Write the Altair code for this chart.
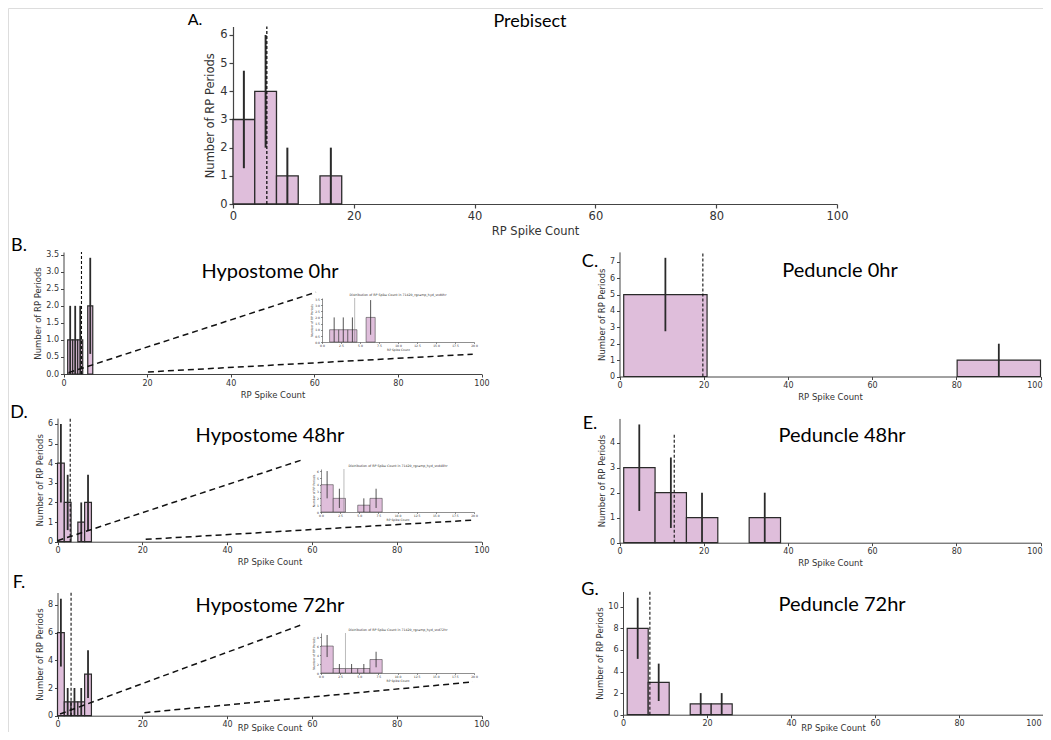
import altair as alt
import pandas as pd

W, H = 1035, 724
OFF = 8

# ---------------- data ----------------
# A. Prebisect
A_edges = [0, 3.6, 7.2, 10.8, 14.4, 18.0]
A_counts = [3, 4, 1, 0, 1]
A_err_x = [1.8, 5.4, 9.0, 16.2]
A_err_lo = [1.27, 2.0, 0.0, 0.0]
A_err_hi = [4.73, 6.0, 2.0, 2.0]
A_median = 5.6

# B. Hypostome 0hr
B_edges = [1.0, 2.2, 3.4, 4.6, 5.8, 7.0]
B_counts = [1, 1, 1, 0, 2]
B_err_x = [1.6, 2.8, 4.0, 6.4]
B_err_lo = [0.0, 0.0, 0.0, 0.59]
B_err_hi = [2.0, 2.0, 2.0, 3.41]
B_median = 4.3

# C. Peduncle 0hr
C_edges = [1.0, 20.8, 40.6, 60.4, 80.2, 100.0]
C_counts = [5, 0, 0, 0, 1]
C_err_x = [10.9, 90.1]
C_err_lo = [2.76, 0.0]
C_err_hi = [7.24, 2.0]
C_median = 19.8

# D. Hypostome 48hr
D_edges = [0.0, 1.6, 3.2, 4.8, 6.4, 8.0]
D_counts = [4, 2, 0, 1, 2]
D_err_x = [0.8, 2.4, 5.6, 7.2]
D_err_lo = [2.0, 0.59, 0.0, 0.59]
D_err_hi = [6.0, 3.41, 2.0, 3.41]
D_median = 3.0

# E. Peduncle 48hr
E_edges = [1.0, 8.45, 15.9, 23.35, 30.8, 38.25]
E_counts = [3, 2, 1, 0, 1]
E_err_x = [4.7, 12.2, 19.6, 34.5]
E_err_lo = [1.27, 0.59, 0.0, 0.0]
E_err_hi = [4.73, 3.41, 2.0, 2.0]
E_median = 13.0

# F. Hypostome 72hr
F_edges = [0.0, 1.6, 3.2, 4.8, 6.4, 8.0]
F_counts = [6, 1, 1, 1, 3]
F_err_x = [0.8, 2.4, 4.0, 5.6, 7.2]
F_err_lo = [3.55, 0.0, 0.0, 0.0, 1.27]
F_err_hi = [8.45, 2.0, 2.0, 2.0, 4.73]
F_median = 3.2

# G. Peduncle 72hr
G_edges = [1.0, 6.0, 11.0, 16.0, 21.0, 26.0]
G_counts = [8, 3, 0, 1, 1]
G_err_x = [3.5, 8.5, 18.5, 23.5]
G_err_lo = [5.17, 1.27, 0.0, 0.0]
G_err_hi = [10.83, 4.73, 2.0, 2.0]
G_median = 6.4

# zoom-guide dashed lines (main-panel data coordinates)
B_zoom_x1 = [1.2, 20.2]
B_zoom_y1 = [0.04, 0.06]
B_zoom_x2 = [60.4, 97.9]
B_zoom_y2 = [2.40, 0.58]
D_zoom_x1 = [0.0, 20.8]
D_zoom_y1 = [0.05, 0.12]
D_zoom_x2 = [58.1, 98.0]
D_zoom_y2 = [4.2, 1.1]
F_zoom_x1 = [0.6, 20.5]
F_zoom_y1 = [0.12, 0.22]
F_zoom_x2 = [57.6, 98.0]
F_zoom_y2 = [6.57, 2.44]

main_xticks = [0, 20, 40, 60, 80, 100]
inset_xticks = [0, 2.5, 5, 7.5, 10, 12.5, 15, 17.5, 20]

FILL = "#dfbedb"
EDGE = "#2a2a2a"
AXC = "#444444"
TXT = "#333333"

STYLES = {
    "big": dict(lab=11.5, tit=11.5, tick=4, dom=1.2, edge=1.3, err=2.0, med=1.3, dash=[3, 2], tpad=4, lpad=2),
    "main": dict(lab=8, tit=8.5, tick=3, dom=1.0, edge=1.2, err=1.8, med=1.1, dash=[3, 2], tpad=3, lpad=2),
    "inset": dict(lab=3, tit=3, tick=1.5, dom=0.6, edge=0.5, err=0.8, med=0.5, dash=[1, 0], tpad=1, lpad=1),
}


def panel(edges, counts, ex, elo, ehi, median, med_top, xdom, xpx, ydom, ypx,
          xticks, yticks, xfmt, yfmt, style, zoom=None, xtitle_y=None, right_shift=None):
    s = STYLES[style]
    xs = alt.Scale(domain=xdom, range=[xpx[0] - OFF, xpx[1] - OFF], nice=False, zero=False)
    ys = alt.Scale(domain=ydom, range=[ypx[0] - OFF, ypx[1] - OFF], nice=False, zero=False)
    common = dict(grid=False, labelFlush=False, labelOverlap=False,
                  labelFontSize=s["lab"], titleFontSize=s["tit"], tickSize=s["tick"],
                  domainWidth=s["dom"], tickWidth=s["dom"], domainColor=AXC, tickColor=AXC,
                  labelColor=TXT, titleColor=TXT, titleFontWeight="normal",
                  labelPadding=s["lpad"], labelFont="DejaVu Sans",
                  titleFont="DejaVu Sans")
    xextra = dict(titlePadding=s["tpad"])
    if xtitle_y is not None:
        xextra = dict(titleY=xtitle_y, titleBaseline="middle")
    if right_shift is not None:
        xextra["labelAlign"] = {"condition": {"test": "datum.value == 100", "value": "right"},
                                "value": "center"}
        xextra["labelOffset"] = {"condition": {"test": "datum.value == 100", "value": right_shift},
                                 "value": 0}
    xax = alt.Axis(orient="bottom", offset=(ypx[0] - OFF) - H, values=xticks, format=xfmt,
                   title="RP Spike Count", **common, **xextra)
    yax = alt.Axis(orient="left", offset=-(xpx[0] - OFF), values=yticks, format=yfmt,
                   title="Number of RP Periods", titlePadding=s["tpad"], **common)

    bars = pd.DataFrame({"a": edges[:-1], "b": edges[1:], "n": counts, "z": [0] * len(counts)})
    bars = bars[bars["n"] > 0]
    errs = pd.DataFrame({"a": ex, "lo": elo, "hi": ehi})
    med = pd.DataFrame({"a": [median], "lo": [0], "hi": [med_top]})

    layers = [
        alt.Chart(bars).mark_rect(fill=FILL, stroke=EDGE, strokeWidth=s["edge"]).encode(
            x=alt.X("a:Q", scale=xs, axis=xax), x2="b:Q",
            y=alt.Y("n:Q", scale=ys, axis=yax), y2="z:Q"),
        alt.Chart(errs).mark_rule(color=EDGE, strokeWidth=s["err"]).encode(
            x=alt.X("a:Q", scale=xs, axis=xax),
            y=alt.Y("lo:Q", scale=ys, axis=yax), y2="hi:Q"),
        alt.Chart(med).mark_rule(color="#111111" if style != "inset" else "#777777",
                                 strokeWidth=s["med"], strokeDash=s["dash"]).encode(
            x=alt.X("a:Q", scale=xs, axis=xax),
            y=alt.Y("lo:Q", scale=ys, axis=yax), y2="hi:Q"),
    ]
    if zoom is not None:
        zx1, zy1, zx2, zy2 = zoom
        zd = pd.DataFrame({"a": zx1, "lo": zy1, "b": zx2, "hi": zy2})
        layers.append(
            alt.Chart(zd).mark_rule(color="#111111", strokeWidth=1.5, strokeDash=[6, 4]).encode(
                x=alt.X("a:Q", scale=xs, axis=xax), x2="b:Q",
                y=alt.Y("lo:Q", scale=ys, axis=yax), y2="hi:Q"))
    return alt.layer(*layers)


def label(txt, px, py, size, font="Lato", align="center", color="black"):
    return alt.Chart(pd.DataFrame({"t": [txt]})).mark_text(
        font=font, fontSize=size, align=align, baseline="middle", color=color
    ).encode(text="t:N", x=alt.value(px - OFF), y=alt.value(py - OFF))


panels = [
    panel(A_edges, A_counts, A_err_x, A_err_lo, A_err_hi, A_median, 6.3, [0, 100], [233, 837],
          [0, 6.3], [204, 26.5], main_xticks, [0, 1, 2, 3, 4, 5, 6], "d", "d", "big"),
    panel(B_edges, B_counts, B_err_x, B_err_lo, B_err_hi, B_median, 3.58, [0, 100], [63.5, 481.5],
          [0, 3.58], [374, 252], main_xticks, [0, 0.5, 1, 1.5, 2, 2.5, 3, 3.5], "d", ".1f", "main",
          zoom=(B_zoom_x1, B_zoom_y1, B_zoom_x2, B_zoom_y2)),
    panel(B_edges, B_counts, B_err_x, B_err_lo, B_err_hi, B_median, 3.58, [0, 20], [322, 474],
          [0, 3.58], [342, 298], inset_xticks, [0, 0.5, 1, 1.5, 2, 2.5, 3, 3.5], ".1f", ".1f", "inset"),
    panel(C_edges, C_counts, C_err_x, C_err_lo, C_err_hi, C_median, 7.6, [0, 100], [619.5, 1040.5],
          [0, 7.6], [376.5, 251.9], main_xticks, [0, 1, 2, 3, 4, 5, 6, 7], "d", "d", "main",
          right_shift=1.5),
    panel(D_edges, D_counts, D_err_x, D_err_lo, D_err_hi, D_median, 6.3, [0, 100], [57.5, 481.5],
          [0, 6.3], [541.7, 418.1], main_xticks, [0, 1, 2, 3, 4, 5, 6], "d", "d", "main",
          zoom=(D_zoom_x1, D_zoom_y1, D_zoom_x2, D_zoom_y2)),
    panel(D_edges, D_counts, D_err_x, D_err_lo, D_err_hi, D_median, 6.3, [0, 20], [321, 474],
          [0, 6.3], [512, 469], inset_xticks, [0, 1, 2, 3, 4, 5, 6], ".1f", "d", "inset"),
    panel(E_edges, E_counts, E_err_x, E_err_lo, E_err_hi, E_median, 4.4, [0, 100], [619.5, 1040.5],
          [0, 4.97], [542.7, 418.45], main_xticks, [0, 1, 2, 3, 4], "d", "d", "main",
          right_shift=1.5),
    panel(F_edges, F_counts, F_err_x, F_err_lo, F_err_hi, F_median, 8.9, [0, 100], [57.5, 481.5],
          [0, 8.9], [715.7, 592.5], main_xticks, [0, 2, 4, 6, 8], "d", "d", "main",
          zoom=(F_zoom_x1, F_zoom_y1, F_zoom_x2, F_zoom_y2), xtitle_y=12),
    panel(F_edges, F_counts, F_err_x, F_err_lo, F_err_hi, F_median, 8.9, [0, 20], [321, 474],
          [0, 8.9], [673, 633], inset_xticks, [0, 2, 4, 6, 8], ".1f", "d", "inset"),
    panel(G_edges, G_counts, G_err_x, G_err_lo, G_err_hi, G_median, 11.4, [0, 100], [623, 1043],
          [0, 11.4], [714.7, 591.6], main_xticks, [0, 2, 4, 6, 8, 10], "d", "d", "main",
          xtitle_y=13, right_shift=-2),
]

texts = [
    label("A.", 195, 20, 16),
    label("Prebisect", 530, 22, 18),
    label("B.", 19, 246, 18),
    label("Hypostome 0hr", 270, 272, 20),
    label("C.", 590, 262, 18),
    label("Peduncle 0hr", 840, 271, 20),
    label("D.", 19, 413, 18),
    label("Hypostome 48hr", 270, 436, 20),
    label("E.", 590, 424, 18),
    label("Peduncle 48hr", 842, 436, 20),
    label("F.", 19, 583, 18),
    label("Hypostome 72hr", 270, 606, 20),
    label("G.", 590, 590, 18),
    label("Peduncle 72hr", 842, 605, 20),
    label("Distribution of RP Spike Count in 71420_rgcamp_hyd_snd0hr", 398, 295, 3.2, font="DejaVu Sans", color=TXT),
    label("Distribution of RP Spike Count in 71420_rgcamp_hyd_snd48hr", 398, 465.5, 3.2, font="DejaVu Sans", color=TXT),
    label("Distribution of RP Spike Count in 71420_rgcamp_hyd_snd72hr", 398, 629.5, 3.2, font="DejaVu Sans", color=TXT),
]

chart = alt.layer(*panels, *texts).resolve_scale(
    x="independent", y="independent"
).properties(
    width=W, height=H, padding=0,
    autosize=alt.AutoSizeParams(type="none"),
).configure_view(stroke=None).configure(background="white")

chart.save("out.html", embed_options={"renderer": "svg", "actions": False})
